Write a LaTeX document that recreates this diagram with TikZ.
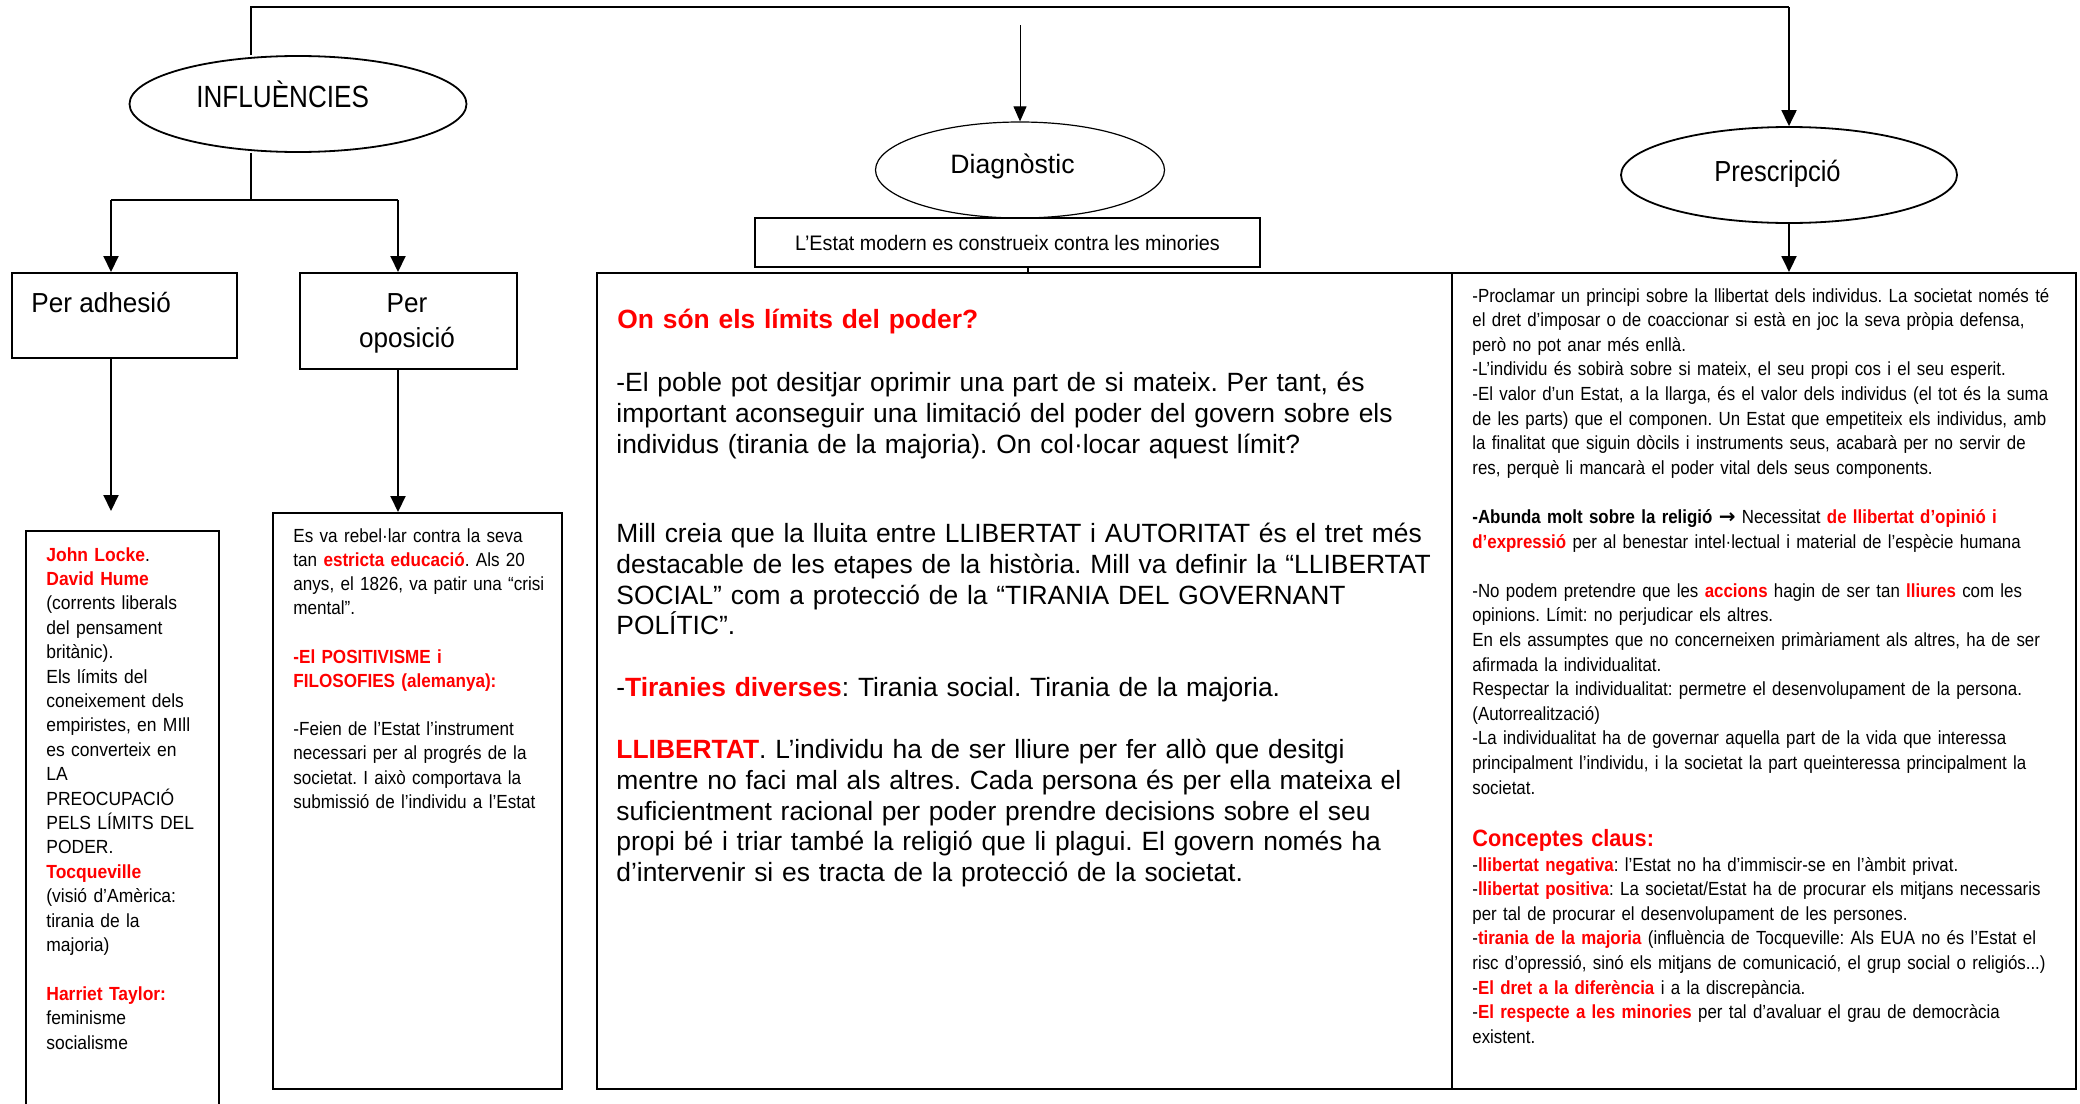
\documentclass[tikz,border=0pt]{standalone}
\usepackage{fontspec}
\setmainfont{Liberation Sans}
\newfontfamily\fsmall[FakeStretch=0.92]{Liberation Sans}
\newfontfamily\fopo[FakeStretch=0.90]{Liberation Sans}
\newfontfamily\fright[FakeStretch=0.888]{Liberation Sans}
\newfontfamily\finf[FakeStretch=0.85]{Liberation Sans}
\newfontfamily\fpres[FakeStretch=0.88]{Liberation Sans}
\newfontfamily\festat[FakeStretch=0.94]{Liberation Sans}
\newfontfamily\fper[FakeStretch=0.95]{Liberation Sans}
\newfontfamily\djv{DejaVu Sans}
\usetikzlibrary{shapes.geometric,arrows.meta,backgrounds}
\definecolor{tred}{RGB}{255,0,0}
\newcommand\rb[1]{\textcolor{tred}{\textbf{#1}}}
\frenchspacing
\tikzset{
  box/.style={draw, line width=1.1pt, fill=white, inner sep=0pt, rectangle, anchor=north west},
  ell/.style={draw, ellipse, line width=0.9pt, fill=white, inner sep=0pt},
  conn/.style={line width=1pt},
  arr/.style={conn, -{Triangle[length=8pt,width=7.5pt]}},
  thinarr/.style={line width=0.5pt, -{Triangle[length=7.5pt,width=6.5pt]}},
  txt/.style={anchor=base west, inner sep=0pt, align=left, text width=340pt},
  smallfont/.style={font=\fsmall\fontsize{9.5pt}{12.2pt}\selectfont},
  midfont/.style={font=\fontsize{13.2pt}{15.4pt}\selectfont}
}
\begin{document}
\begin{tikzpicture}[x=0.5pt,y=-0.5pt]
\useasboundingbox (0,0) rectangle (2080,1103);

% ellipses
\node[ell, minimum width=168.5pt, minimum height=48pt] (inf) at (298,104) {};
\node[ell, line width=0.6pt, minimum width=144.5pt, minimum height=48pt] (diag) at (1020,170) {};
\node[ell, minimum width=168pt, minimum height=48pt] (pres) at (1789,175) {};

% boxes
\node[box, minimum width=112.5pt, minimum height=42.5pt] (adh) at (11,272) {};
\node[box, minimum width=108.5pt, minimum height=48pt] (opo) at (299,272) {};
\node[box, minimum width=96.5pt, minimum height=300pt] (lockb) at (25,530) {};
\node[box, minimum width=144.5pt, minimum height=288pt] (opob) at (272,512) {};
\node[box, minimum width=427.5pt, minimum height=408pt] (mid) at (596,272) {};
\node[box, minimum width=312pt, minimum height=408pt] (right) at (1451,272) {};
\node[draw, line width=0.8pt, fill=white, inner sep=0pt, minimum width=252.5pt, minimum height=24.5pt,
      font=\festat\fontsize{10.5pt}{12pt}\selectfont] (estat) at (1007.5,242.5)
      {L’Estat modern es construeix contra les minories};

% labels
\node[anchor=base west, inner sep=0pt, font=\finf\fontsize{15.35pt}{18pt}\selectfont] (inft) at (196,107) {INFLUÈNCIES};
\node[anchor=base west, inner sep=0pt, font=\fontsize{13.3pt}{16pt}\selectfont] (diagt) at (950,173) {Diagnòstic};
\node[anchor=base west, inner sep=0pt, font=\fpres\fontsize{14.5pt}{17pt}\selectfont] (prest) at (1714,181) {Prescripció};
\node[anchor=base west, inner sep=0pt, font=\fper\fontsize{13.75pt}{17.5pt}\selectfont] (adht) at (31,312) {Per adhesió};
\node[anchor=base, inner sep=0pt, align=center, text width=70pt, font=\fper\fontsize{13.75pt}{17.5pt}\selectfont] (opot) at (407,312) {Per\\oposició};

% left box text
\node[txt, smallfont] (lockt) at (46,561) {\rb{John Locke}.\\ \rb{David Hume}\\ (corrents liberals\\ del pensament\\ britànic).\\ Els límits del\\ coneixement dels\\ empiristes, en MIll\\ es converteix en\\ LA\\ PREOCUPACIÓ\\ PELS LÍMITS DEL\\ PODER.\\ \rb{Tocqueville}\\ (visió d’Amèrica:\\ tirania de la\\ majoria)\\[12.2pt] \rb{Harriet Taylor:}\\ feminisme\\ socialisme};

\node[txt, font=\fopo\fontsize{9.5pt}{12.1pt}\selectfont] (opobt) at (293,542) {Es va rebel·lar contra la seva\\ tan \rb{estricta educació}. Als 20\\ anys, el 1826, va patir una “crisi\\ mental”.\\[12.1pt] \rb{-El POSITIVISME i}\\ \rb{FILOSOFIES (alemanya):}\\[12.1pt] -Feien de l’Estat l’instrument\\ necessari per al progrés de la\\ societat. I això comportava la\\ submissió de l’individu a l’Estat};

% middle text
\node[txt, font=\bfseries\fontsize{13.2pt}{15.4pt}\selectfont, text=tred] (q) at (617,328) {On són els límits del poder?};
\node[txt, midfont, text width=440pt] (p1) at (616,391.5) {-El poble pot desitjar oprimir una part de si mateix. Per tant, és\\ important aconseguir una limitació del poder del govern sobre els\\ individus (tirania de la majoria). On col·locar aquest límit?};
\node[txt, midfont, text width=440pt] (p2) at (616,542.5) {Mill creia que la lluita entre LLIBERTAT i AUTORITAT és el tret més\\ destacable de les etapes de la història. Mill va definir la “LLIBERTAT\\ SOCIAL” com a protecció de la “TIRANIA DEL GOVERNANT\\ POLÍTIC”.};
\node[txt, midfont, text width=440pt] (p3) at (616,696.5) {-\rb{Tiranies diverses}: Tirania social. Tirania de la majoria.};
\node[txt, midfont, text width=440pt] (p4) at (616,758.5) {\rb{LLIBERTAT}. L’individu ha de ser lliure per fer allò que desitgi\\ mentre no faci mal als altres. Cada persona és per ella mateixa el\\ suficientment racional per poder prendre decisions sobre el seu\\ propi bé i triar també la religió que li plagui. El govern només ha\\ d’intervenir si es tracta de la protecció de la societat.};

% right text
\node[txt, font=\fright\fontsize{9.5pt}{12.3pt}\selectfont] (r1) at (1472,302) {-Proclamar un principi sobre la llibertat dels individus. La societat només té\\
el dret d’imposar o de coaccionar si està en joc la seva pròpia defensa,\\
però no pot anar més enllà.\\
-L’individu és sobirà sobre si mateix, el seu propi cos i el seu esperit.\\
-El valor d’un Estat, a la llarga, és el valor dels individus (el tot és la suma\\
de les parts) que el componen. Un Estat que empetiteix els individus, amb\\
la finalitat que siguin dòcils i instruments seus, acabarà per no servir de\\
res, perquè li mancarà el poder vital dels seus components.\\[12.3pt]
\textbf{-Abunda molt sobre la religió} {\djv\bfseries\fontsize{10pt}{12.3pt}\selectfont →} Necessitat \rb{de llibertat d’opinió i}\\
\rb{d’expressió} per al benestar intel·lectual i material de l’espècie humana\\[12.3pt]
-No podem pretendre que les \rb{accions} hagin de ser tan \rb{lliures} com les\\
opinions. Límit: no perjudicar els altres.\\
En els assumptes que no concerneixen primàriament als altres, ha de ser\\
afirmada la individualitat.\\
Respectar la individualitat: permetre el desenvolupament de la persona.\\
(Autorrealització)\\
-La individualitat ha de governar aquella part de la vida que interessa\\
principalment l’individu, i la societat la part queinteressa principalment la\\
societat.};
\node[txt, font=\fsmall\bfseries\fontsize{11.8pt}{14pt}\selectfont, text=tred] (cc) at (1472,846) {Conceptes claus:};
\node[txt, font=\fright\fontsize{9.5pt}{12.3pt}\selectfont] (r2) at (1472,871) {-\rb{llibertat negativa}: l’Estat no ha d’immiscir-se en l’àmbit privat.\\
-\rb{llibertat positiva}: La societat/Estat ha de procurar els mitjans necessaris\\
per tal de procurar el desenvolupament de les persones.\\
-\rb{tirania de la majoria} (influència de Tocqueville: Als EUA no és l’Estat el\\
risc d’opressió, sinó els mitjans de comunicació, el grup social o religiós...)\\
-\rb{El dret a la diferència} i a la discrepància.\\
-\rb{El respecte a les minories} per tal d’avaluar el grau de democràcia\\
existent.};

% connectors
\coordinate (tl) at (251,7);
\coordinate (tr) at (1789,7);
\coordinate (jL) at (111,200);
\coordinate (jM) at (251,200);
\coordinate (jR) at (398,200);
\coordinate (aL) at (111,511);
\coordinate (dtop) at (1020,25);
\coordinate (ec) at (1028,267);
\begin{scope}[on background layer]
\draw[conn] (inf.north -| tl) -- (tl) -- (tr);
\draw[arr] (tr) -- (pres.north);
\draw[conn] (inf.south -| tl) -- (jM);
\draw[conn] (jL) -- (jR);
\draw[arr] (jL) -- (jL |- adh.north);
\draw[arr] (jR) -- (jR |- opo.north);
\draw[arr] (jL |- adh.south) -- (aL);
\draw[arr] (jR |- opo.south) -- (jR |- opob.north);
\draw[thinarr] (dtop) -- (diag.north);
\draw[line width=0.6pt] (ec) -- (ec |- mid.north);
\draw[arr] (pres.south) -- (pres.south |- right.north);
\end{scope}
\end{tikzpicture}
\end{document}
